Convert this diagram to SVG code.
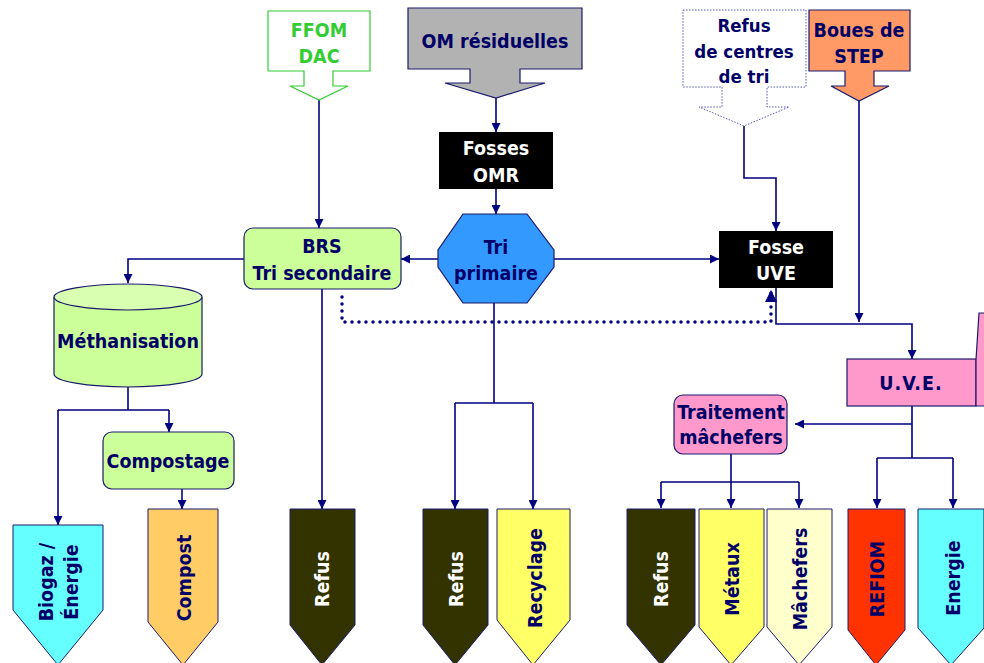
<svg xmlns="http://www.w3.org/2000/svg" width="984" height="663" viewBox="0 0 984 663">
<defs>
<marker id="arr" viewBox="0 0 10 10" refX="10" refY="5" markerWidth="9" markerHeight="9" markerUnits="userSpaceOnUse" orient="auto"><path d="M0,0 L10,5 L0,10 z" fill="#000080"/></marker>
<marker id="arrBig" viewBox="0 0 10 10" refX="10" refY="5" markerWidth="12" markerHeight="12" markerUnits="userSpaceOnUse" orient="auto"><path d="M0,0 L10,5 L0,10 z" fill="#000080"/></marker>
</defs>
<style>
text{font-family:"DejaVu Sans Condensed","DejaVu Sans",sans-serif;font-stretch:condensed;font-weight:bold;font-size:19.5px;text-anchor:middle;fill:#000066}
.w{fill:#ffffff}
.lbl{dominant-baseline:central}
.c{fill:none;stroke:#000080;stroke-width:1.6}
.ca{fill:none;stroke:#000080;stroke-width:1.6;marker-end:url(#arr)}
.dot{fill:none;stroke:#000080;stroke-width:3.5;stroke-linecap:round;stroke-dasharray:0 7;marker-end:url(#arrBig)}
.sh{stroke:#1a1a6e;stroke-width:1.2}
.out{stroke:#1a1a6e;stroke-width:1}
</style>

<g id="connectors">
<path class="ca" d="M319,100 V228"/>
<path class="ca" d="M496,98 V132"/>
<path class="ca" d="M496,189 V214"/>
<path class="ca" d="M438,259 H401"/>
<path class="ca" d="M554,259 H719"/>
<path class="ca" d="M744,126 V178 H776 V231"/>
<path class="ca" d="M244,259 H128 V283"/>
<path class="ca" d="M322,289 V509"/>
<path class="c" d="M494,303 V403 M455,403 H533"/>
<path class="ca" d="M455,403 V509"/>
<path class="ca" d="M533,403 V509"/>
<path class="dot" d="M342,297 V322 H771 V290"/>
<path class="ca" d="M776,288 V324 H912 V359"/>
<path class="ca" d="M859,101 V322"/>
<path class="c" d="M128,387 V410 M58,410 H169"/>
<path class="ca" d="M58,410 V525"/>
<path class="ca" d="M169,410 V432"/>
<path class="ca" d="M182,489 V509"/>
<path class="c" d="M912,406 V458 M877,458 H953"/>
<path class="ca" d="M912,424 H795"/>
<path class="ca" d="M877,458 V508"/>
<path class="ca" d="M953,458 V508"/>
<path class="c" d="M731,454 V482 M661,482 H799"/>
<path class="ca" d="M731,482 V508"/>
<path class="ca" d="M661,482 V508"/>
<path class="ca" d="M799,482 V508"/>
</g>

<g id="ffom">
<path d="M268,11 H370 V71 H333 V86 H348 L319,100 L290,86 H304 V71 H268 Z" fill="#ffffff" stroke="#33cc33" stroke-width="1.2"/>
<text x="319" y="37" style="fill:#33cc33">FFOM</text>
<text x="319" y="63" style="fill:#33cc33">DAC</text>
</g>

<g id="om">
<path d="M408,8 H582 V69 H520 V83 H545 L496,98 L445,83 H470 V69 H408 Z" fill="#b2b2b2" class="sh"/>
<text x="495" y="48">OM résiduelles</text>
</g>

<g id="refus-centres">
<path d="M683,10 H806 V87 H767 V107 H789 L744,126 L699,107 H722 V87 H683 Z" fill="#ffffff" stroke="#5555bb" stroke-width="1" stroke-dasharray="1.5 1.5"/>
<text x="744" y="32" style="font-size:18.5px">Refus</text>
<text x="744" y="58" style="font-size:18.5px">de centres</text>
<text x="744" y="83" style="font-size:18.5px">de tri</text>
</g>

<g id="boues">
<path d="M809,10 H910 V71 H874 V86 H889 L859,101 L831,86 H845 V71 H809 Z" fill="#ff9966" class="sh"/>
<text x="859" y="37">Boues de</text>
<text x="859" y="63">STEP</text>
</g>

<g id="fosses-omr">
<rect x="439" y="132" width="114" height="57" fill="#000000"/>
<text x="496" y="155" class="w">Fosses</text>
<text x="496" y="182" class="w">OMR</text>
</g>

<g id="brs">
<rect x="244" y="228" width="157" height="61" rx="9" fill="#ccff99" class="sh"/>
<text x="322" y="253">BRS</text>
<text x="322" y="280">Tri secondaire</text>
</g>

<g id="tri-primaire">
<path d="M463,214 H527 L554,250 V267 L527,303 H463 L438,267 V250 Z" fill="#3399ff" class="sh"/>
<text x="496" y="254">Tri</text>
<text x="496" y="280">primaire</text>
</g>

<g id="fosse-uve">
<rect x="719" y="231" width="114" height="57" fill="#000000"/>
<text x="776" y="254" class="w">Fosse</text>
<text x="776" y="280" class="w">UVE</text>
</g>

<g id="methanisation">
<path d="M54,297 V374 A74,13 0 0 0 202,374 V297" fill="#ccff99" class="sh"/>
<ellipse cx="128" cy="297" rx="74" ry="13" fill="#d9ffb0" class="sh"/>
<text x="128" y="348">Méthanisation</text>
</g>

<g id="compostage">
<rect x="103" y="432" width="131" height="57" rx="9" fill="#ccff99" class="sh"/>
<text x="168" y="468">Compostage</text>
</g>

<g id="uve">
<rect x="847" y="359" width="129" height="47" fill="#ff99cc" class="sh"/>
<path d="M976,406 V360 L979,313 H986 V406 Z" fill="#ff99cc" class="sh"/>
<text x="911" y="390" style="letter-spacing:1px">U.V.E.</text>
</g>

<g id="traitement">
<rect x="674" y="395" width="113" height="59" rx="9" fill="#ff99cc" class="sh"/>
<text x="731" y="419">Traitement</text>
<text x="731" y="444">mâchefers</text>
</g>

<g id="out-biogaz">
<path d="M13,525 H103 V610 L58,665 L13,610 Z" fill="#66ffff" class="out"/>
<text transform="rotate(-90 46 582)" x="46" y="582" class="lbl">Biogaz /</text>
<text transform="rotate(-90 71 582)" x="71" y="582" class="lbl">Énergie</text>
</g>
<g id="out-compost">
<path d="M148,509 H218 V622 L183,665 L148,622 Z" fill="#ffcc66" class="out"/>
<text transform="rotate(-90 184 578)" x="184" y="578" class="lbl">Compost</text>
</g>
<g id="out-refus1">
<path d="M290,509 H355 V625 L322,665 L290,625 Z" fill="#333300" class="out"/>
<text transform="rotate(-90 322 579)" x="322" y="579" class="lbl w">Refus</text>
</g>
<g id="out-refus2">
<path d="M423,509 H488 V625 L455,665 L423,625 Z" fill="#333300" class="out"/>
<text transform="rotate(-90 456 579)" x="456" y="579" class="lbl w">Refus</text>
</g>
<g id="out-recyclage">
<path d="M497,509 H570 V620 L533,665 L497,620 Z" fill="#ffff66" class="out"/>
<text transform="rotate(-90 535 578)" x="535" y="578" class="lbl">Recyclage</text>
</g>
<g id="out-refus3">
<path d="M627,509 H695 V625 L661,665 L627,625 Z" fill="#333300" class="out"/>
<text transform="rotate(-90 661 579)" x="661" y="579" class="lbl w">Refus</text>
</g>
<g id="out-metaux">
<path d="M699,509 H764 V627 L731,665 L699,627 Z" fill="#ffff66" class="out"/>
<text transform="rotate(-90 732 579)" x="732" y="579" class="lbl">Métaux</text>
</g>
<g id="out-machefers">
<path d="M767,509 H832 V627 L799,665 L767,627 Z" fill="#ffffcc" class="out"/>
<text transform="rotate(-90 800 579)" x="800" y="579" class="lbl">Mâchefers</text>
</g>
<g id="out-refiom">
<path d="M848,509 H905 V630 L876,665 L848,630 Z" fill="#ff3300" class="out"/>
<text transform="rotate(-90 877 579)" x="877" y="579" class="lbl">REFIOM</text>
</g>
<g id="out-energie">
<path d="M918,509 H984 V628 L951,665 L918,628 Z" fill="#66ffff" class="out"/>
<text transform="rotate(-90 953 578)" x="953" y="578" class="lbl">Energie</text>
</g>
</svg>
